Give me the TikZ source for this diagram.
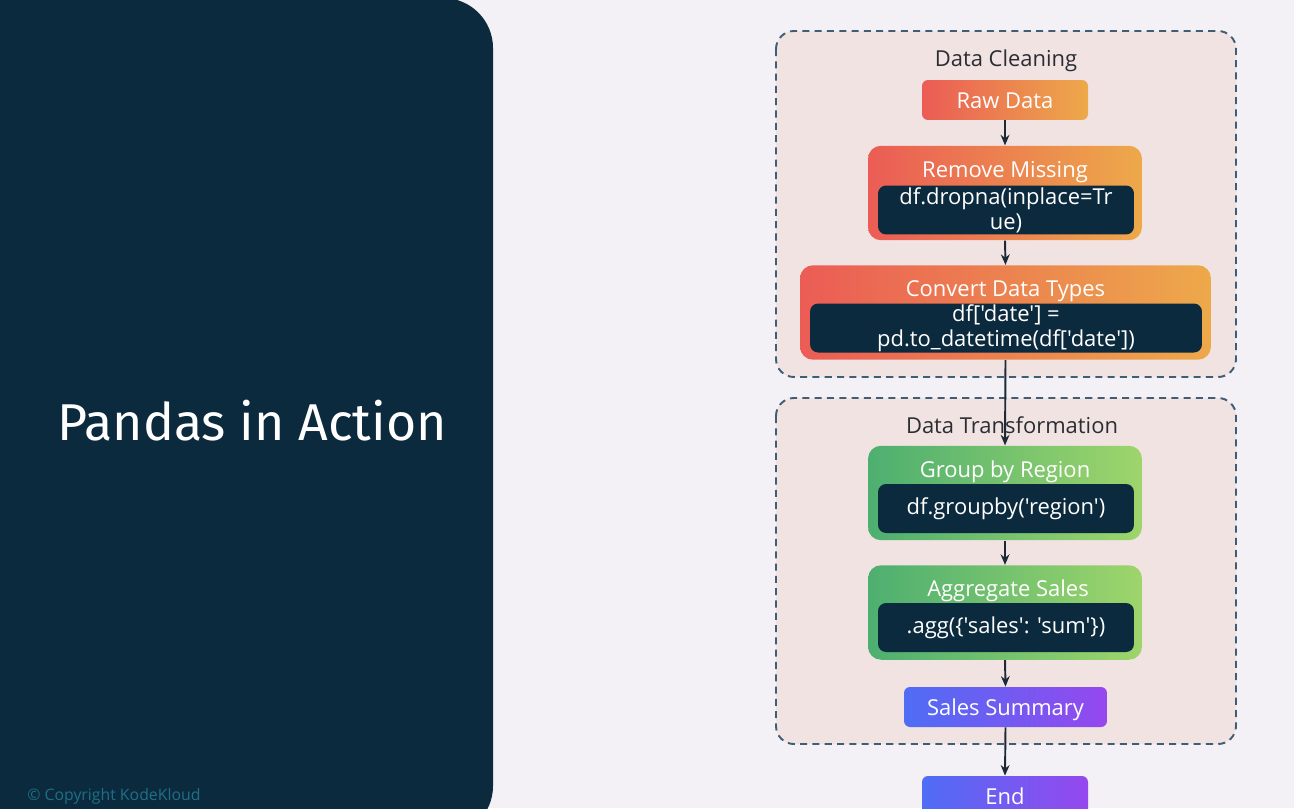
\documentclass[tikz,border=0pt]{standalone}
\usepackage{fontspec}
\setmainfont{Open Sans}
\newfontfamily\codefont[Ligatures=TeXOff]{Open Sans}
\newfontfamily\headfont{Fira Sans}
\usetikzlibrary{arrows.meta}

\definecolor{pagebg}{HTML}{F3F1F5}
\definecolor{panel}{HTML}{0C2A3D}
\definecolor{groupfill}{HTML}{F2E3E3}
\definecolor{groupline}{HTML}{3F5D75}
\definecolor{grouptext}{HTML}{2A2E33}
\definecolor{orangeL}{HTML}{EB5C55}
\definecolor{orangeR}{HTML}{EDA94A}
\definecolor{greenL}{HTML}{4DAF70}
\definecolor{greenR}{HTML}{9ED56B}
\definecolor{blueL}{HTML}{4F6DF5}
\definecolor{blueR}{HTML}{9548EE}
\definecolor{arrowcol}{HTML}{1C2A36}
\definecolor{copyrightcol}{HTML}{1E7088}

\tikzset{
  group/.style={draw=groupline, line width=1.1pt, dash pattern=on 4pt off 3pt,
    fill=groupfill, rounded corners=0.36cm},
  grouptitle/.style={text=grouptext, inner sep=0pt,
    font=\fontsize{12.5}{15}\selectfont},
  smallbox/.style={rounded corners=0.12cm, text=white, inner sep=0pt,
    minimum height=0.8cm, text height=11.6pt, text depth=1.6pt,
    font=\fontsize{12.5}{15}\selectfont},
  bigbox/.style={rounded corners=0.26cm, inner sep=0pt, minimum height=1.89cm},
  orangebox/.style={left color=orangeL, right color=orangeR},
  greenbox/.style={left color=greenL, right color=greenR},
  bluebox/.style={left color=blueL, right color=blueR},
  boxtitle/.style={text=white, inner sep=0pt, font=\fontsize{12.5}{15}\selectfont},
  codebox/.style={fill=panel, rounded corners=0.16cm, text=white, inner sep=0pt,
    minimum height=0.98cm, align=center,
    font=\codefont\fontsize{12.5}{14.3}\selectfont},
  flow/.style={draw=arrowcol, line width=1.1pt,
    -{Stealth[length=6pt, width=5pt]}}
}

\begin{document}
\begin{tikzpicture}[x=0.02cm, y=-0.02cm]
  \useasboundingbox (0,0) rectangle (1294,808);
  \clip (0,0) rectangle (1294,808);

  % Background and left panel
  \fill[pagebg] (0,0) rectangle (1294,808);
  \fill[panel, rounded corners=1cm] (-40,-2) rectangle (493,836);
  \node[text=white, inner sep=0pt, font=\headfont\fontsize{29.5}{34}\selectfont]
    (heading) at (252,421) {Pandas in Action};
  \node[text=copyrightcol, anchor=south west, inner sep=0pt,
    font=\fontsize{9}{11}\selectfont]
    (copyright) at (27,805) {\textcopyright\ Copyright KodeKloud};

  % Group frames
  \draw[group] (776,31) rectangle (1236,377);
  \node[grouptitle] (cleantitle) at (1006,61) {Data Cleaning};
  \draw[group] (776,398) rectangle (1236,744);
  \node[grouptitle] (transtitle) at (1012,425) {Data Transformation};

  % Data cleaning steps
  \node[smallbox, orangebox, minimum width=3.32cm] (raw) at (1005,100) {Raw Data};

  \node[bigbox, orangebox, minimum width=5.48cm] (remove) at (1005,193) {};
  \node[boxtitle] (removetitle) at (1005,172) {Remove Missing};
  \node[codebox, minimum width=5.12cm] (removecode) at (1006,210)
    {df.dropna(inplace=Tr\\ue)};

  \node[bigbox, orangebox, minimum width=8.22cm] (convert) at (1005.5,312.5) {};
  \node[boxtitle] (converttitle) at (1005.5,291) {Convert Data Types};
  \node[codebox, minimum width=7.84cm] (convertcode) at (1006,328)
    {df['date'] =\\pd.to\_datetime(df['date'])};

  % Data transformation steps
  \node[bigbox, greenbox, minimum width=5.48cm] (group) at (1005,493) {};
  \node[boxtitle] (grouptitle) at (1005,472) {Group by Region};
  \node[codebox, minimum width=5.12cm] (groupcode) at (1006,508.5)
    {df.groupby('region')};

  \node[bigbox, greenbox, minimum width=5.48cm] (aggregate) at (1005,612.5) {};
  \node[boxtitle] (aggtitle) at (1008,591) {Aggregate Sales};
  \node[codebox, minimum width=5.12cm] (aggcode) at (1006,627.5)
    {.agg(\{'sales': 'sum'\})};

  \node[smallbox, bluebox, minimum width=4.06cm] (summary) at (1005.5,707) {Sales Summary};

  \node[smallbox, bluebox, minimum width=3.32cm] (end) at (1005,796) {End};

  % Connectors
  \draw[flow] (raw.south) -- (remove.north);
  \draw[flow] (remove.south) -- (convert.north);
  \draw[flow] (convert.south) -- (group.north);
  \draw[flow] (group.south) -- (aggregate.north);
  \draw[flow] (aggregate.south) -- (summary.north);
  \draw[flow] (summary.south) -- (end.north);
\end{tikzpicture}
\end{document}
